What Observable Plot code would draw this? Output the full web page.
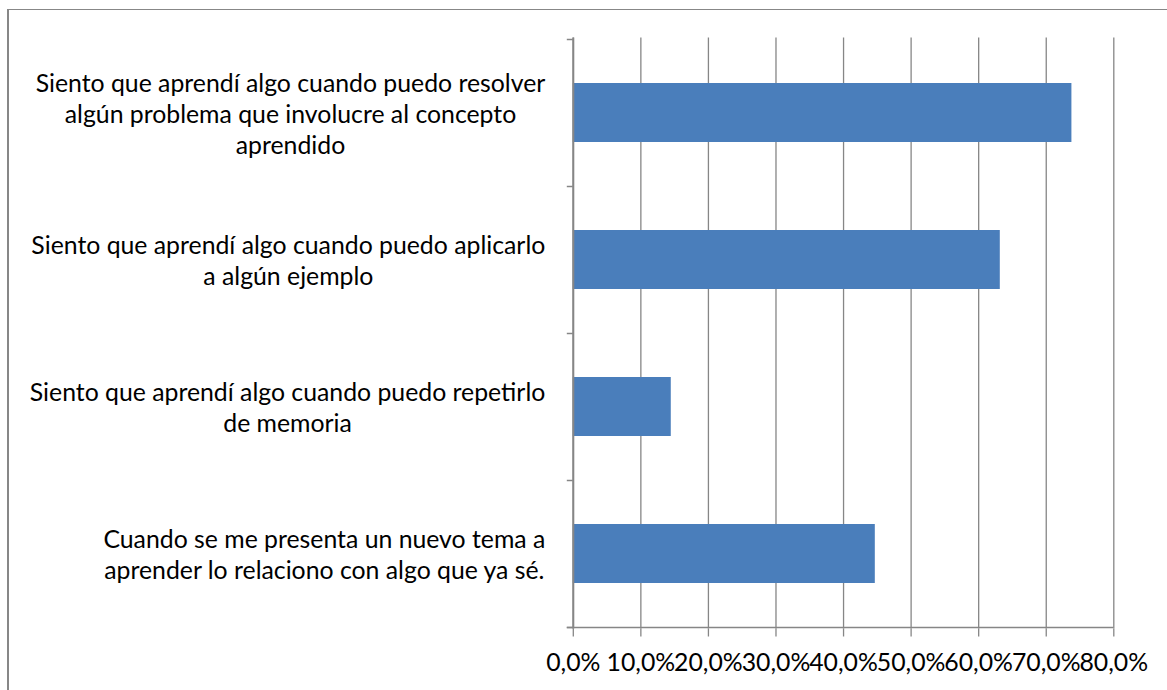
<!DOCTYPE html>
<html><head><meta charset="utf-8">
<script src="https://cdn.jsdelivr.net/npm/d3@7"></script>
<script src="https://cdn.jsdelivr.net/npm/@observablehq/plot@0.6"></script>
<style>
body{margin:0;background:#fff;}
#wrap{position:relative;width:1167px;height:690px;overflow:hidden;background:#fff;}
#border{position:absolute;left:7px;top:9px;right:-10px;bottom:-10px;border-left:2.5px solid #878787;border-top:1.5px solid #878787;}
#chart{position:absolute;left:0;top:0;}
</style></head><body><div id="wrap"><div id="border"></div><div id="chart"></div></div>
<script>
const categories = [
  "Siento que aprendí algo cuando puedo resolver\nalgún problema que involucre al concepto\naprendido",
  "Siento que aprendí algo cuando puedo aplicarlo\na algún ejemplo",
  "Siento que aprendí algo cuando puedo repetirlo\nde memoria",
  "Cuando se me presenta un nuevo tema a\naprender lo relaciono con algo que ya sé."
];
const values = [0.738, 0.632, 0.145, 0.447];
const xTicks = [0, 0.1, 0.2, 0.3, 0.4, 0.5, 0.6, 0.7, 0.8];

const data = categories.map((c, i) => ({category: c, value: values[i]}));
const fmt = d => (d * 100).toFixed(1).replace(".", ",") + "%";

const W = 1167, H = 690;
const base = {
  width: W, height: H,
  marginTop: 37.5, marginBottom: 61.5, marginLeft: 572.8, marginRight: W - 1113.3,
  style: {fontFamily: "Lato, 'Open Sans', sans-serif", fontSize: "24.8px", color: "#000", background: "transparent"},
  x: {domain: [0, 0.8], axis: null, label: null},
  y: {domain: categories, paddingInner: 0.6, paddingOuter: 0.3, axis: null, label: null}
};
const probe = Plot.plot({...base, marks: [Plot.barX(data, {x: "value", y: "category"})]});
const ys = probe.scale("y");
const step = ys.step ?? (H - 37.5 - 61.5) / (categories.length - 0.6 + 0.6);
const gray = "#868686";

const chart = Plot.plot({
  ...base,
  marks: [
    Plot.gridX(xTicks, {stroke: gray, strokeOpacity: 1, strokeWidth: 1.3}),
    Plot.barX(data, {x: "value", y: "category", fill: "#4a7ebb"}),
    Plot.ruleX([0], {stroke: gray, strokeWidth: 2}),
    Plot.ruleY(categories, {y: d => d, dy: step / 2, x1: 0, x2: 0, insetLeft: -6, stroke: gray, strokeWidth: 1.5}),
    Plot.ruleY([categories[0]], {y: d => d, dy: -step / 2, x1: 0, x2: 0, insetLeft: -6, stroke: gray, strokeWidth: 1.5}),
    Plot.ruleY([categories[categories.length - 1]], {y: d => d, dy: step / 2, insetLeft: -6, stroke: gray, strokeWidth: 1.5}),
    Plot.axisX(xTicks, {tickFormat: fmt, tickSize: 8, tickPadding: 16, stroke: gray, strokeWidth: 1.3, fontSize: 24.8, label: null}),
    Plot.text(data, {y: "category", text: "category", frameAnchor: "left", textAnchor: "end", dx: -28, lineAnchor: "middle", lineHeight: 1.25, fill: "#000"})
  ]
});
document.getElementById("chart").append(chart);

// center each label's lines within its own block (block right-aligned next to the axis)
chart.querySelectorAll('g[aria-label="text"] text').forEach(t => {
  const w = t.getBBox().width;
  const bx = t.hasAttribute("x") ? parseFloat(t.getAttribute("x")) : 0;
  t.setAttribute("text-anchor", "middle");
  const spans = t.querySelectorAll("tspan");
  if (spans.length) spans.forEach(s => s.setAttribute("x", bx - w / 2));
  else t.setAttribute("x", bx - w / 2);
});
</script>
</body></html>
